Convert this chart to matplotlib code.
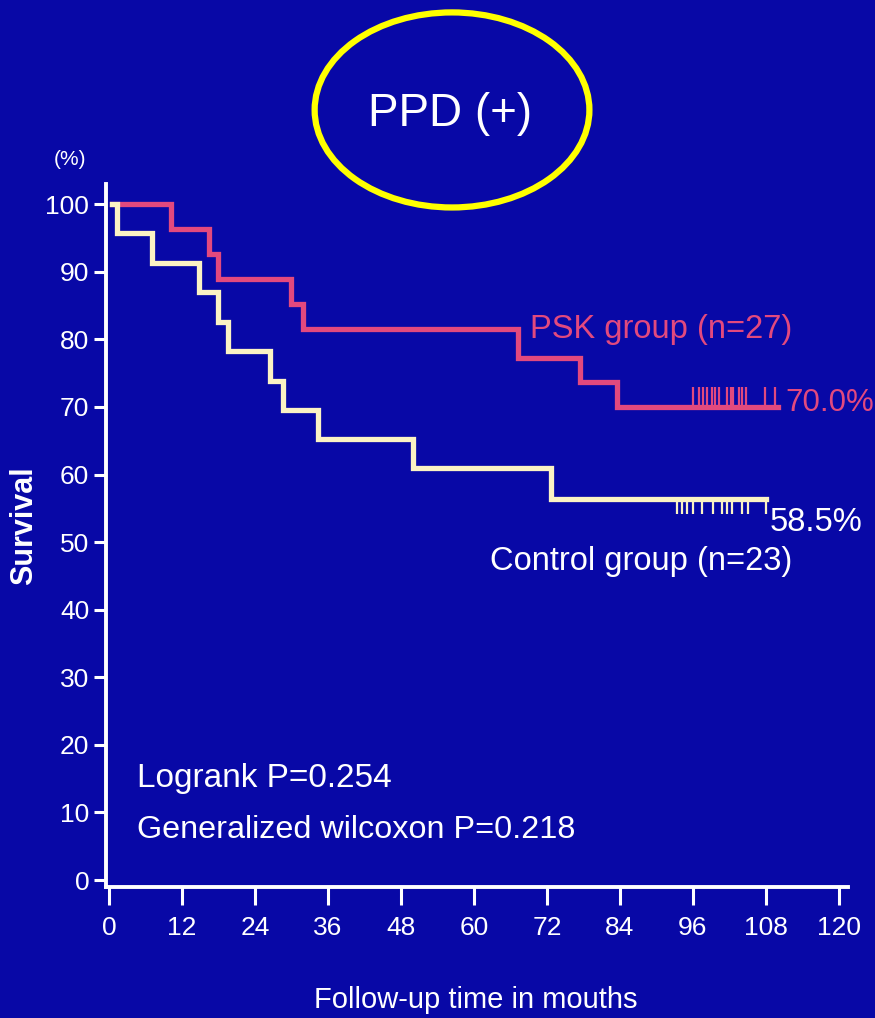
import matplotlib
matplotlib.use('Agg')
import matplotlib.pyplot as plt
import matplotlib.patches as mpatches
from matplotlib import font_manager

# survival steps (months, %)
psk_t = [0.5, 10.2, 16.4, 17.9, 29.9, 31.9, 67.3, 77.5, 83.6, 110.0]
psk_s = [100, 96.3, 92.6, 88.9, 85.2, 81.5, 77.3, 73.7, 70.0, 70.0]
psk_cens = [96.1, 97.0, 97.7, 98.4, 99.2, 99.7, 100.3, 101.6, 102.3, 102.6,
            103.6, 104.1, 104.8, 107.9, 109.5]

ctl_t = [0.5, 1.3, 7.1, 14.8, 17.9, 19.6, 26.5, 28.6, 34.4, 50.0, 72.7, 108.0]
ctl_s = [100, 95.7, 91.3, 87.0, 82.6, 78.3, 73.9, 69.6, 65.2, 60.9, 56.4, 56.4]
ctl_cens = [93.4, 94.2, 95.1, 96.1, 97.5, 99.3, 100.8, 101.6, 102.4, 104.1,
            105.1, 108.0]

xticks = [0, 12, 24, 36, 48, 60, 72, 84, 96, 108, 120]
yticks = [0, 10, 20, 30, 40, 50, 60, 70, 80, 90, 100]

bg = '#0808a6'
pink = '#e2497e'
cream = '#fbf3c4'

names = {f.name for f in font_manager.fontManager.ttflist}
narrow = 'Liberation Sans Narrow' if 'Liberation Sans Narrow' in names else 'Liberation Sans'
plt.rcParams['font.family'] = [narrow, 'DejaVu Sans']

fig = plt.figure(figsize=(8.75, 10.18), dpi=100, facecolor=bg)
ax = fig.add_axes([0.1211, 0.1289, 0.848, 0.6904], facecolor=bg)

ax.step(psk_t, psk_s, where='post', color=pink, lw=3.8, solid_joinstyle='miter')
ax.step(ctl_t, ctl_s, where='post', color=cream, lw=3.8, solid_joinstyle='miter')

# censoring marks
ax.vlines(psk_cens, psk_s[-1], psk_s[-1] + 3.0, color=pink, lw=1.6)
ax.vlines(ctl_cens, ctl_s[-1] - 2.2, ctl_s[-1], color=cream, lw=1.6)

ax.set_xlim(-0.5, 121.5)
ax.set_ylim(-1, 103)
ax.set_xticks(xticks)
ax.set_yticks(yticks)
ax.tick_params(colors='white', labelcolor='white', labelsize=19, width=2.2)
ax.tick_params(axis='y', length=9, pad=3)
ax.tick_params(axis='x', length=13, pad=8)
for s in ['top', 'right']:
    ax.spines[s].set_visible(False)
for s in ['left', 'bottom']:
    ax.spines[s].set_color('white')
    ax.spines[s].set_linewidth(2.8)

ax.text(69.2, 80.2, 'PSK group (n=27)', color=pink, fontsize=23.5)
ax.text(111.2, 69.4, '70.0%', color=pink, fontsize=22.5)
ax.text(108.7, 51.7, '58.5%', color='white', fontsize=23.5)
ax.text(62.7, 45.9, 'Control group (n=23)', color='white', fontsize=23.5)
ax.text(4.6, 13.8, 'Logrank P=0.254', color='white', fontsize=24)
ax.text(4.6, 6.2, 'Generalized wilcoxon P=0.218', color='white', fontsize=23.3)

# title with yellow ring
fig.text(0.514, 0.888, 'PPD (+)', color='white', fontsize=33, ha='center', va='center')
ring = mpatches.Ellipse((0.5166, 0.892), 0.314, 0.1916, transform=fig.transFigure,
                        fill=False, edgecolor='#ffff00', lw=4.5)
fig.patches.append(ring)

fig.text(0.08, 0.843, '(%)', color='white', fontsize=15, ha='center', va='center')
fig.text(0.027, 0.484, 'Survival', color='white', fontsize=22, rotation=90,
         ha='center', va='center', weight='bold')
fig.text(0.544, 0.018, 'Follow-up time in mouths', color='white', fontsize=21,
         ha='center', va='center')

fig.savefig('out.png', dpi=100, facecolor=bg)
